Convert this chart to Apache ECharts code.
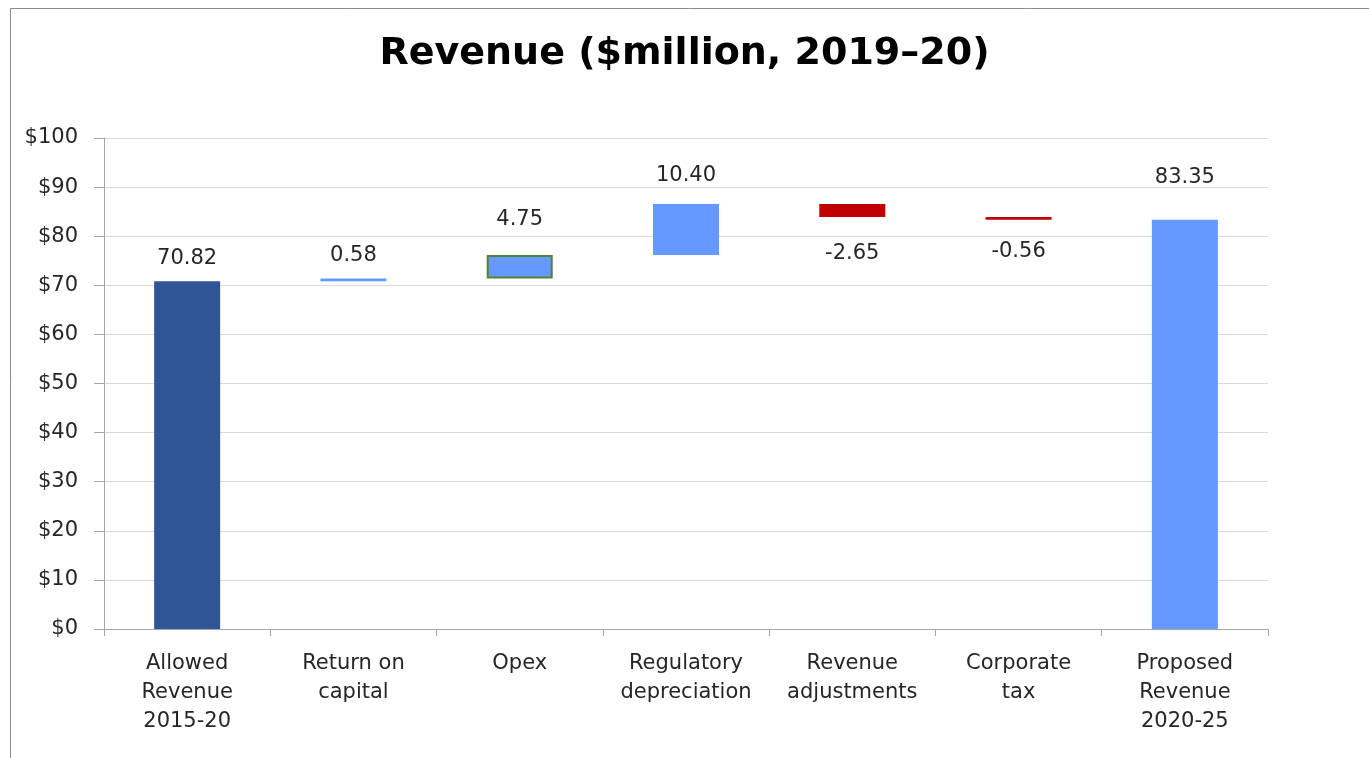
<!DOCTYPE html>
<html>
<head>
<meta charset="utf-8">
<title>Revenue waterfall</title>
<script src="https://cdn.jsdelivr.net/npm/echarts@6/dist/echarts.min.js"></script>
<style>
  html, body { margin: 0; padding: 0; background: #fff; }
  #chart { width: 1369px; height: 758px; }
</style>
</head>
<body>
<div id="chart"></div>
<script>
  var categories = ['Allowed\nRevenue\n2015-20', 'Return on\ncapital', 'Opex', 'Regulatory\ndepreciation',
    'Revenue\nadjustments', 'Corporate\ntax', 'Proposed\nRevenue\n2020-25']
  var changes = [70.82, 0.58, 4.75, 10.40, -2.65, -0.56, 83.35]
  var isTotal = [true, false, false, false, false, false, true]
  var yTicks = [0, 10, 20, 30, 40, 50, 60, 70, 80, 90, 100]

  var darkBlue = '#2F5597'
  var lightBlue = '#6699FF'
  var red = '#C00000'
  var green = '#548235'
  var font = '"DejaVu Sans", "Open Sans", sans-serif'
  // gap between bar end and its value label, as placed in the original
  var labelGap = [12, 12, 25, 18, 26, 21, 32]

  // running total gives the hidden base under each floating bar
  var base = []
  var shown = []
  var run = 0
  changes.forEach(function (v, i) {
    var item
    if (isTotal[i]) {
      base.push(0)
      run = v
      item = { value: v, itemStyle: { color: i === 0 ? darkBlue : lightBlue },
        label: { distance: labelGap[i] } }
    } else if (v >= 0) {
      base.push(run)
      run += v
      item = { value: v, itemStyle: { color: lightBlue },
        label: { distance: labelGap[i] } }
    } else {
      run += v
      base.push(run)
      item = { value: -v, itemStyle: { color: red },
        label: { position: 'bottom', distance: labelGap[i] } }
    }
    if (i === 2) {
      item.itemStyle.borderColor = green
      item.itemStyle.borderWidth = 2
    }
    item.raw = v
    shown.push(item)
  })

  var chart = echarts.init(document.getElementById('chart'))
  var option = {
    animation: false,
    title: {
      text: 'Revenue ($million, 2019\u201320)',
      left: 'center',
      top: 30,
      textStyle: { fontFamily: font, fontWeight: 'bold', fontSize: 38, color: '#000' }
    },
    graphic: [{
      // chart frame: only the left and top edges show in the picture
      type: 'polyline',
      shape: { points: [[10.5, 758], [10.5, 8.5], [1369, 8.5]] },
      style: { fill: 'none', stroke: '#8C8C8C', lineWidth: 1 },
      silent: true
    }],
    grid: { left: 104, right: 101, top: 138, bottom: 129 },
    xAxis: {
      type: 'category',
      data: categories,
      axisLine: { lineStyle: { color: '#A6A6A6' } },
      axisTick: { show: true, length: 7, lineStyle: { color: '#A6A6A6' } },
      axisLabel: { interval: 0, margin: 20, lineHeight: 29, fontFamily: font, fontSize: 21, color: '#262626' }
    },
    yAxis: {
      type: 'value',
      min: 0,
      max: 100,
      interval: 10,
      axisLine: { show: true, lineStyle: { color: '#A6A6A6' } },
      axisTick: { show: true, length: 10, lineStyle: { color: '#A6A6A6' } },
      splitLine: { lineStyle: { color: '#D9D9D9' } },
      axisLabel: {
        margin: 26, fontFamily: font, fontSize: 21, color: '#262626',
        formatter: function (v) { return yTicks.indexOf(v) >= 0 ? '$' + v : '' }
      }
    },
    series: [
      {
        name: 'base',
        type: 'bar',
        stack: 'w',
        barWidth: 66,
        itemStyle: { color: 'transparent' },
        emphasis: { disabled: true },
        data: base
      },
      {
        name: 'change',
        type: 'bar',
        stack: 'w',
        barWidth: 66,
        data: shown,
        label: {
          show: true,
          position: 'top',
          fontFamily: font,
          fontSize: 21,
          color: '#262626',
          formatter: function (p) { return p.data.raw.toFixed(2) }
        }
      }
    ]
  }
  chart.setOption(option)
  window.addEventListener('resize', function () { chart.resize() })
</script>
</body>
</html>
